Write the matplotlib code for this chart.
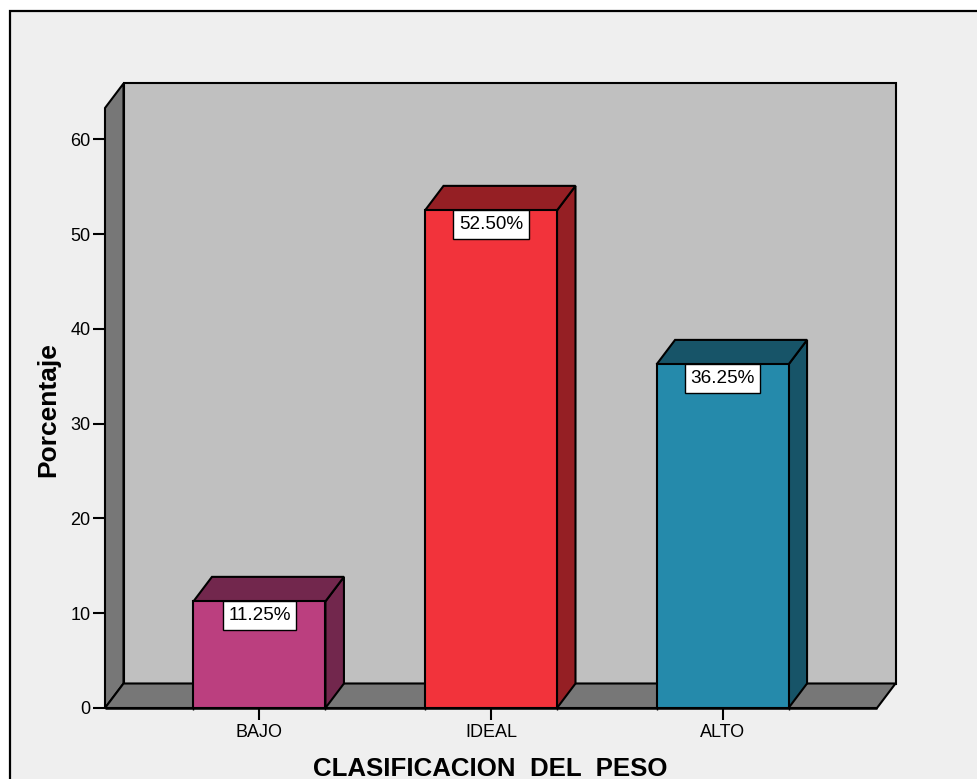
import matplotlib
matplotlib.use("Agg")
import matplotlib.pyplot as plt
from matplotlib.patches import Polygon, Rectangle

# ---- data -------------------------------------------------------------
categories = ["BAJO", "IDEAL", "ALTO"]
percentages = [11.25, 52.50, 36.25]
value_labels = ["11.25%", "52.50%", "36.25%"]
y_ticks = [0, 10, 20, 30, 40, 50, 60]

# ---- style ------------------------------------------------------------
front_colors = ["#BB3F7F", "#F2333B", "#258AAB"]
shade_colors = ["#72274D", "#951F24", "#175468"]
WALL = "#C0C0C0"
FLOOR = "#777777"
PANEL = "#EFEFEF"
EDGE_LW = 1.5
FONT = "Liberation Sans"

W, H, DPI = 978, 779, 100
plt.rcParams["font.family"] = [FONT, "DejaVu Sans"]

fig = plt.figure(figsize=(W / DPI, H / DPI), dpi=DPI, facecolor="white")

# framed light-gray panel that runs off the right and bottom edges
fig.add_artist(Rectangle((9.5 / W, -0.1), 1.2, (H - 11) / H + 0.1,
                         transform=fig.transFigure, facecolor=PANEL,
                         edgecolor="black", lw=1.6, zorder=0))

# front plane of the 3-D box (pixel layout of the plotting area)
ax_left, ax_right, ax_bottom, ax_top = 105, 877, 708, 108
ax = fig.add_axes([ax_left / W, (H - ax_bottom) / H,
                   (ax_right - ax_left) / W, (ax_bottom - ax_top) / H])
ax.set_facecolor("none")
x0, x1 = -0.667, 2.667
y0, y1 = 0, 63.3
ax.set_xlim(x0, x1)
ax.set_ylim(y0, y1)
for s in ax.spines.values():
    s.set_visible(False)

# depth of the 3-D effect, converted from pixels to data units
depth_px_x, depth_px_y = 18.5, 24.5
DX = depth_px_x * (x1 - x0) / (ax_right - ax_left)
DY = depth_px_y * (y1 - y0) / (ax_bottom - ax_top)

kw = dict(edgecolor="black", lw=EDGE_LW, clip_on=False, joinstyle="miter")

# back wall, left wall and floor
ax.add_patch(Rectangle((x0 + DX, y0 + DY), x1 - x0, y1 - y0,
                       facecolor=WALL, zorder=1, **kw))
ax.add_patch(Polygon([(x0, y0), (x0, y1), (x0 + DX, y1 + DY), (x0 + DX, y0 + DY)],
                     closed=True, facecolor=FLOOR, zorder=2, **kw))
ax.add_patch(Polygon([(x0, y0), (x1, y0), (x1 + DX, y0 + DY), (x0 + DX, y0 + DY)],
                     closed=True, facecolor=FLOOR, zorder=2, **kw))

# 3-D bars
bar_w = 0.57
for i, (v, fc, sc) in enumerate(zip(percentages, front_colors, shade_colors)):
    l, r = i - bar_w / 2, i + bar_w / 2
    ax.add_patch(Polygon([(r, 0), (r, v), (r + DX, v + DY), (r + DX, DY)],
                         closed=True, facecolor=sc, zorder=3, **kw))
    ax.add_patch(Polygon([(l, v), (r, v), (r + DX, v + DY), (l + DX, v + DY)],
                         closed=True, facecolor=sc, zorder=3, **kw))
    ax.add_patch(Rectangle((l, 0), bar_w, v, facecolor=fc, zorder=4, **kw))

# value boxes hanging from the top of each bar
val_fs = 13.6
pad = 0.3
for i, (v, txt) in enumerate(zip(percentages, value_labels)):
    ax.annotate(txt, xy=(i, v), xytext=(0, -pad * val_fs),
                textcoords="offset points", ha="center", va="top",
                fontsize=val_fs, color="black", zorder=6,
                bbox=dict(boxstyle=f"square,pad={pad}", facecolor="white",
                          edgecolor="black", lw=1.0))

# front floor edge
ax.plot([x0, x1], [0, 0], color="black", lw=EDGE_LW + 0.3, zorder=5,
        clip_on=False, solid_capstyle="butt")

# ticks
ax.set_yticks(y_ticks)
ax.set_yticklabels([str(t) for t in y_ticks])
ax.set_xticks(range(len(categories)))
ax.set_xticklabels(categories)
edges = [i + s * bar_w / 2 for i in range(len(categories)) for s in (-1, 1)]
ax.set_xticks(edges, minor=True)
ax.tick_params(axis="y", which="major", length=8.6, width=1.5, direction="out",
               labelsize=13, pad=2.0, colors="black")
ax.tick_params(axis="x", which="major", length=8.6, width=1.5, direction="out",
               labelsize=13, pad=3.0, colors="black")
ax.tick_params(axis="x", which="minor", length=1.5, width=1.0, direction="out")

# axis titles
fig.text(48 / W, 1 - 410 / H, "Porcentaje", rotation=90, ha="center",
         va="center", fontsize=19, fontweight="bold")
fig.text(490 / W, (H - 776) / H, "CLASIFICACION  DEL  PESO", ha="center",
         va="baseline", fontsize=18.6, fontweight="bold")

fig.savefig("out.png", dpi=DPI, facecolor=fig.get_facecolor())
